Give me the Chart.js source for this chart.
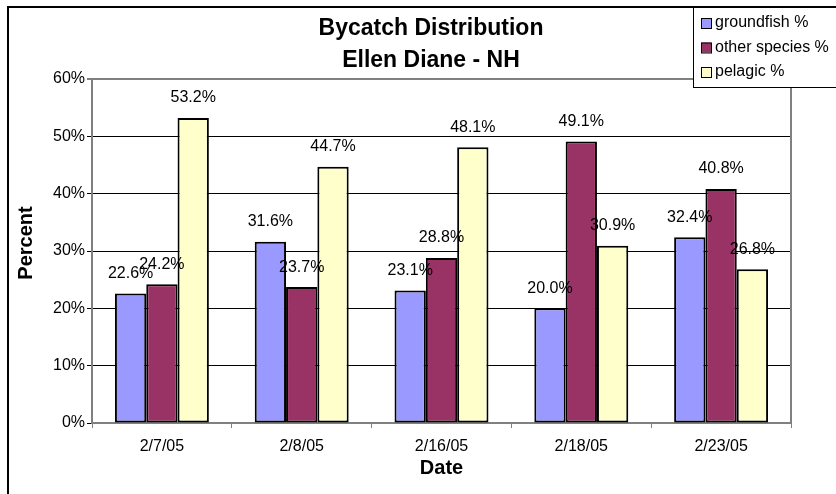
<!DOCTYPE html>
<html>
<head>
<meta charset="utf-8">
<script src="https://cdn.jsdelivr.net/npm/chart.js@4/dist/chart.umd.min.js"></script>
<style>
  html, body { margin: 0; padding: 0; background: #fff; }
  canvas { display: block; }
</style>
</head>
<body>
<canvas id="c" width="836" height="494"></canvas>
<script>
const titleLines = ["Bycatch Distribution", "Ellen Diane - NH"];
const categories = ["2/7/05", "2/8/05", "2/16/05", "2/18/05", "2/23/05"];
const seriesNames = ["groundfish %", "other species %", "pelagic %"];
const groundfish = [22.6, 31.6, 23.1, 20.0, 32.4];
const otherSpecies = [24.2, 23.7, 28.8, 49.1, 40.8];
const pelagic = [53.2, 44.7, 48.1, 30.9, 26.8];
const yTicks = [0, 10, 20, 30, 40, 50, 60];
const xTitle = "Date";
const yTitle = "Percent";

const colors = ["#9999FF", "#993366", "#FFFFCC"];
const FONT = "'Liberation Sans', Arial, sans-serif";

const extras = {
  id: 'extras',
  beforeDraw(chart) {
    const ctx = chart.ctx;
    ctx.save();
    ctx.fillStyle = '#fff';
    ctx.fillRect(0, 0, chart.width, chart.height);
    ctx.restore();
  },
  afterDatasetsDraw(chart) {
    const ctx = chart.ctx;
    const a = chart.chartArea;
    ctx.save();
    ctx.strokeStyle = '#808080';
    ctx.lineWidth = 2;
    ctx.beginPath();
    ctx.moveTo(a.left, a.top);
    ctx.lineTo(a.right, a.top);
    ctx.lineTo(a.right, a.bottom);
    ctx.stroke();
    ctx.fillStyle = '#000';
    ctx.font = '16px ' + FONT;
    ctx.textAlign = 'center';
    ctx.textBaseline = 'middle';
    chart.data.datasets.forEach((ds, i) => {
      const meta = chart.getDatasetMeta(i);
      meta.data.forEach((el, j) => {
        ctx.fillText(ds.data[j].toFixed(1) + '%', el.x, el.y - 20);
      });
    });
    ctx.restore();
  },
  afterDraw(chart) {
    const ctx = chart.ctx;
    const a = chart.chartArea;
    ctx.save();
    ctx.strokeStyle = '#000';
    ctx.lineWidth = 2;
    ctx.strokeRect(8, 7, 840, 500);
    ctx.fillStyle = '#000';
    ctx.textAlign = 'center';
    ctx.textBaseline = 'alphabetic';
    ctx.font = 'bold 23px ' + FONT;
    ctx.fillText(titleLines[0], 431, 35);
    ctx.fillText(titleLines[1], 431, 67);
    ctx.font = 'bold 20px ' + FONT;
    ctx.textBaseline = 'middle';
    ctx.fillText(xTitle, (a.left + a.right) / 2, 468);
    ctx.save();
    ctx.translate(26, 243);
    ctx.rotate(-Math.PI / 2);
    ctx.fillText(yTitle, 0, 0);
    ctx.restore();
    const lx = 693, ly = 7, lw = 150, lh = 80;
    ctx.fillStyle = '#fff';
    ctx.fillRect(lx, ly, lw, lh);
    ctx.strokeStyle = '#000';
    ctx.lineWidth = 1;
    ctx.strokeRect(lx + 0.5, ly + 0.5, lw, lh);
    ctx.font = '16px ' + FONT;
    ctx.textAlign = 'left';
    ctx.textBaseline = 'middle';
    const rows = [23, 47.5, 72];
    chart.data.datasets.forEach((ds, i) => {
      const y = rows[i];
      ctx.fillStyle = ds.backgroundColor;
      ctx.fillRect(701, y - 5, 10, 10);
      ctx.strokeStyle = '#000';
      ctx.lineWidth = 1;
      ctx.strokeRect(701.5, y - 4.5, 10, 10);
      ctx.fillStyle = '#000';
      ctx.fillText(ds.label, 715, y);
    });
    ctx.restore();
  }
};

const datasets = [groundfish, otherSpecies, pelagic].map((d, i) => ({
  label: seriesNames[i],
  data: d,
  backgroundColor: colors[i],
  borderColor: '#000',
  borderWidth: 2,
  borderSkipped: false,
  categoryPercentage: 0.672,
  barPercentage: 1.0
}));

new Chart(document.getElementById('c'), {
  type: 'bar',
  data: { labels: categories, datasets },
  plugins: [extras],
  options: {
    responsive: false,
    animation: false,
    devicePixelRatio: 1,
    layout: { padding: { left: 32, top: 79, right: 45, bottom: 21 } },
    plugins: {
      legend: { display: false },
      title: { display: false },
      tooltip: { enabled: false }
    },
    scales: {
      x: {
        afterFit(s) { s.height = 50; },
        grid: { display: true, drawOnChartArea: false, drawTicks: true, tickLength: 5, color: '#808080', lineWidth: 1, offset: true },
        border: { display: true, color: '#808080', width: 2 },
        ticks: { color: '#000', font: { family: FONT, size: 16 }, padding: 9, maxRotation: 0 }
      },
      y: {
        min: 0, max: 60,
        afterFit(s) { s.width = 60; },
        afterBuildTicks(s) { s.ticks = yTicks.map(v => ({ value: v })); },
        grid: {
          drawTicks: true, tickLength: 5,
          color: (c) => (c.tick && c.tick.value === 60) ? '#808080' : '#000',
          lineWidth: (c) => (c.tick && c.tick.value === 60) ? 2 : 1
        },
        border: { display: true, color: '#808080', width: 2 },
        ticks: { color: '#000', font: { family: FONT, size: 16 }, padding: 2, callback: (v) => v + '%' }
      }
    }
  }
});
</script>
</body>
</html>
